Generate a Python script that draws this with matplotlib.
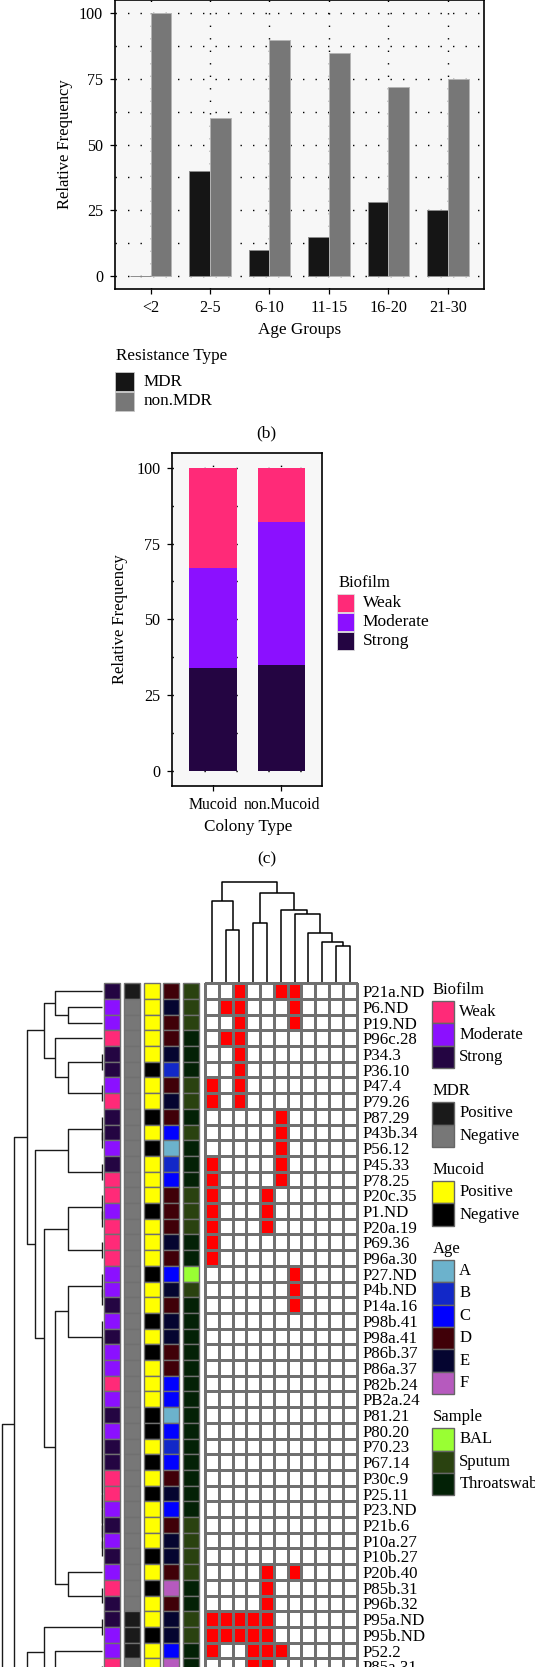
import numpy as np
import matplotlib
matplotlib.use("Agg")
import matplotlib.pyplot as plt
from matplotlib.patches import Rectangle
from matplotlib.colors import ListedColormap

plt.rcParams['font.family'] = ['Liberation Serif', 'DejaVu Serif']

# ---------------- panel (a): resistance by age group
age_groups = ['<2', '2-5', '6-10', '11-15', '16-20', '21-30']
mdr = [0, 40, 10, 15, 28, 25]
non_mdr = [100, 60, 90, 85, 72, 75]

# ---------------- panel (b): biofilm by colony type
colony = ['Mucoid', 'non.Mucoid']
strong = [34, 35]
moderate = [33, 47]
weak = [33, 18]

# ---------------- panel (c): isolates heatmap
isolates = ['P21a.ND', 'P6.ND', 'P19.ND', 'P96c.28', 'P34.3', 'P36.10', 'P47.4',
            'P79.26', 'P87.29', 'P43b.34', 'P56.12', 'P45.33', 'P78.25', 'P20c.35',
            'P1.ND', 'P20a.19', 'P69.36', 'P96a.30', 'P27.ND', 'P4b.ND', 'P14a.16',
            'P98b.41', 'P98a.41', 'P86b.37', 'P86a.37', 'P82b.24', 'PB2a.24',
            'P81.21', 'P80.20', 'P70.23', 'P67.14', 'P30c.9', 'P25.11', 'P23.ND',
            'P21b.6', 'P10a.27', 'P10b.27', 'P20b.40', 'P85b.31', 'P96b.32',
            'P95a.ND', 'P95b.ND', 'P52.2', 'P85a.31']
# row annotations, one letter per isolate
biofilm = list('SMMWSSMWSSMSWWMWWWMMSMSMMWMSMSSWWMSMSMWSSMMW')
mdr_ann = list('PNNNNNNNNNNNNNNNNNNNNNNNNNNNNNNNNNNNNNNNPPPN')
mucoid = list('YYYYYNYYNYNYYYNYYYNYYNYNYYYNNYNYNYYYNYNYYNYY')
age = list('DEDDEBDEDCABCDDDEDCEDEEDDCCACBCDECDEEDFDEECF')
sample = list('SSSTTTSSTSTTTSSSTTBSTTTTTTTTTTTTTTSSSSTTSSTT')
# columns that are positive (red) for each isolate
red_cells = [[2, 5, 6], [1, 2, 6], [2, 6], [1, 2], [2], [2], [0, 2], [0, 2],
             [5], [5], [5], [0, 5], [0, 5], [0, 4], [0, 4], [0, 4], [0], [0],
             [6], [6], [6]] + [[]] * 16 + [[4, 6], [4], [4], [0, 1, 2, 3, 4],
             [0, 1, 2, 3, 4], [0, 3, 4, 5], [3, 4]]
n_cols = 11

# cluster trees: (merge height, left, right); leaves are row / column indices.
# rows 44..52 lie below the cropped bottom edge of the figure
s2, s3, s5, s7 = np.sqrt([2, 3, 5, 7])
blank = 36
for r in range(35, 20, -1):
    blank = (0.0, r, blank)
row_tree = (3.0,
            (s7,
             (s5,
              (s3, (s2, 0, (1, 1, 2)), (s2, 3, (1, (0, 4, 5), (0, 6, 7)))),
              (2.0,
               (1, (0, 8, (0, 9, 10)), (0, 11, 12)),
               (s3,
                (1, (0, 13, (0, 14, 15)), (0, 16, 17)),
                (s2,
                 (1, (0, 18, (0, 19, 20)), blank),
                 (1, 37, (0, 38, 39)))))),
             (s5,
              (s3, (0, 40, 41),
               (s2, 42, (1, (0, 43, (0, 44, 45)), (0, 46, (0, 47, 48))))),
              (s2, 49, 50))),
            (2.0, 51, 52))
n_tree_rows = 53
col_tree = (101.6, (82.3, 0, (53.3, 1, 2)),
            (90.6, (60.0, 3, 4),
             (73.3, 5, (69.0, 6, (50.6, 7, (41.6, 8, (37.3, 9, 10)))))))

biofilm_colors = {'W': '#FF2A78', 'M': '#8B10FF', 'S': '#240542'}
mdr_colors = {'P': '#1A1A1A', 'N': '#777777'}
mucoid_colors = {'Y': '#FFFF00', 'N': '#000000'}
age_colors = {'A': '#6CB2CC', 'B': '#1228C8', 'C': '#0000FF', 'D': '#400008',
              'E': '#050530', 'F': '#B65ABE'}
sample_colors = {'B': '#99FF33', 'S': '#2A4210', 'T': '#032106'}

W, H = 535, 1667
fig = plt.figure(figsize=(W / 100, H / 100), dpi=100)


def box(left, top, width, height):
    return [left / W, 1 - (top + height) / H, width / W, height / H]


lay = fig.add_axes([0, 0, 1, 1])
lay.set_xlim(0, W)
lay.set_ylim(H, 0)
lay.axis('off')

dots_a = (0, (1, 8))
dots_b = (0, (1, 22))


def style_axes(ax, dots):
    ax.set_facecolor('#F7F7F7')
    ax.set_ylim(-5, 105)
    ax.set_yticks([0, 25, 50, 75, 100])
    ax.set_yticks([12.5, 37.5, 62.5, 87.5], minor=True)
    ax.grid(which='both', axis='y', color='black', linestyle=dots, linewidth=1)
    ax.grid(which='major', axis='x', color='black', linestyle=dots, linewidth=1)
    ax.set_axisbelow(True)
    for s in ax.spines.values():
        s.set_linewidth(1.2)
    ax.tick_params(which='major', direction='out', length=3.6, width=0.9,
                   labelsize=11.6, pad=5)
    ax.tick_params(which='minor', length=0)


# ---- (a)
axa = fig.add_axes(box(114.9, 0.2, 368.6, 288.9))
style_axes(axa, dots_a)
x = np.arange(len(age_groups))
bw = 0.35
axa.bar(x - bw / 2, mdr, bw, color='#151515', edgecolor='#8c8c8c', linewidth=0.7)
axa.bar(x + bw / 2, non_mdr, bw, color='#777777', edgecolor='#b4b4b4', linewidth=0.7)
axa.set_xlim(-0.6, 5.6)
axa.set_xticks(x)
axa.set_xticklabels(age_groups)
axa.tick_params(axis='x', pad=4)
lay.text(65.2, 144.6, 'Relative Frequency', rotation=90, ha='center', va='center', fontsize=12)
lay.text(299.2, 330, 'Age Groups', ha='center', va='center', fontsize=12.3)
lay.text(115.9, 356, 'Resistance Type', ha='left', va='center', fontsize=12.3)
for i, (lab, col) in enumerate(zip(['MDR', 'non.MDR'], ['#151515', '#777777'])):
    y0 = 372.3 + i * 19.8
    lay.add_patch(Rectangle((114.9, y0), 18.8, 18.6, facecolor=col, edgecolor='#c8c8c8', lw=0.6))
    lay.text(144, y0 + 9.3, lab, ha='left', va='center', fontsize=12.3)
lay.text(266.8, 433, '(b)', ha='center', va='center', fontsize=12.5)

# ---- (b)
axb = fig.add_axes(box(172.2, 452.7, 150.2, 333.3))
style_axes(axb, dots_b)
xb = np.arange(len(colony))
bottom = np.zeros(len(colony))
for vals, key in [(strong, 'S'), (moderate, 'M'), (weak, 'W')]:
    axb.bar(xb, vals, 0.7, bottom=bottom, color=biofilm_colors[key], edgecolor='none')
    bottom += np.array(vals)
axb.set_xlim(-0.6, 1.6)
axb.set_xticks(xb)
axb.set_xticklabels(colony)
axb.tick_params(axis='x', pad=4, labelsize=11.3)
lay.text(120, 619, 'Relative Frequency', rotation=90, ha='center', va='center', fontsize=12)
lay.text(248, 827.3, 'Colony Type', ha='center', va='center', fontsize=12.3)
lay.text(338.5, 582.7, 'Biofilm', ha='left', va='center', fontsize=12)
for i, (lab, key) in enumerate(zip(['Weak', 'Moderate', 'Strong'], 'WMS')):
    y0 = 594.3 + i * 19
    lay.add_patch(Rectangle((337.1, y0), 17.1, 17.6, facecolor=biofilm_colors[key],
                            edgecolor='#dddddd', lw=0.6))
    lay.text(362.5, y0 + 8.8, lab, ha='left', va='center', fontsize=12.5)
lay.text(266.5, 859.3, '(c)', ha='center', va='center', fontsize=12.5)

# ---- (c)
top = 983.3
rh = 15.7
n_rows = len(isolates)
grid_col = '#707070'


def draw_tree(ax, node, orient, **kw):
    if not isinstance(node, tuple):
        return node, 0.0
    h, left, right = node
    p1, h1 = draw_tree(ax, left, orient, **kw)
    p2, h2 = draw_tree(ax, right, orient, **kw)
    pos = [p1, p1, p2, p2]
    hts = [h1, h, h, h2]
    if orient == 'left':
        ax.plot(hts, pos, clip_on=False, **kw)
    else:
        ax.plot(pos, hts, clip_on=False, **kw)
    return (p1 + p2) / 2, h


axr = fig.add_axes(box(0, top, 101.7, n_tree_rows * rh))
axr.set_xlim(101.7 / 33.3, 0)
axr.set_ylim(n_tree_rows - 0.5, -0.5)
axr.axis('off')
draw_tree(axr, row_tree, 'left', color='#1a1a1a', lw=1.0, solid_capstyle='butt')

axc = fig.add_axes(box(205, top - 103.3, 151.5, 103.3))
axc.set_xlim(-0.5, n_cols - 0.5)
axc.set_ylim(0, 103.3)
axc.axis('off')
draw_tree(axc, col_tree, 'top', color='black', lw=1.1, solid_capstyle='butt')

axn = fig.add_axes(box(104, top, 95, n_rows * rh))
axn.set_xlim(0, 95)
axn.set_ylim(n_rows, 0)
axn.axis('off')
annotations = [(biofilm, biofilm_colors), (mdr_ann, mdr_colors), (mucoid, mucoid_colors),
               (age, age_colors), (sample, sample_colors)]
for i, (vals, pal) in enumerate(annotations):
    for r, v in enumerate(vals):
        axn.add_patch(Rectangle((i * 19.75, r), 16, 1, facecolor=pal[v],
                                edgecolor=grid_col, lw=1.0, clip_on=False))

axh = fig.add_axes(box(205, top, 151.5, n_rows * rh))
mat = np.zeros((n_rows, n_cols))
for r, cols in enumerate(red_cells):
    mat[r, cols] = 1
mesh = axh.pcolormesh(mat, cmap=ListedColormap(['white', '#FF0000']), vmin=0, vmax=1,
                      edgecolors=grid_col, linewidth=1.0)
mesh.set_clip_on(False)
axh.set_xlim(0, n_cols)
axh.set_ylim(n_rows, 0)
for s in axh.spines.values():
    s.set_visible(False)
axh.set_xticks([])
axh.yaxis.tick_right()
axh.set_yticks(np.arange(n_rows) + 0.5)
axh.set_yticklabels(isolates)
axh.tick_params(axis='y', length=0, pad=4, labelsize=12.2)

legend_groups = [
    ('Biofilm', ['Weak', 'Moderate', 'Strong'], [biofilm_colors[k] for k in 'WMS']),
    ('MDR', ['Positive', 'Negative'], [mdr_colors[k] for k in 'PN']),
    ('Mucoid', ['Positive', 'Negative'], [mucoid_colors[k] for k in 'YN']),
    ('Age', list('ABCDEF'), [age_colors[k] for k in 'ABCDEF']),
    ('Sample', ['BAL', 'Sputum', 'Throatswab'], [sample_colors[k] for k in 'BST']),
]
yy = 990
for title, labs, cols in legend_groups:
    lay.text(432.7, yy, title, ha='left', va='center', fontsize=12)
    y0 = yy + 11
    for lab, col in zip(labs, cols):
        lay.add_patch(Rectangle((431.7, y0), 22.6, 22.4, facecolor=col,
                                edgecolor='#666666', lw=1.0))
        lay.text(459.3, y0 + 11.2, lab, ha='left', va='center', fontsize=12)
        y0 += 22.4
    yy = y0 + 23

fig.savefig('out.png', dpi=100)
